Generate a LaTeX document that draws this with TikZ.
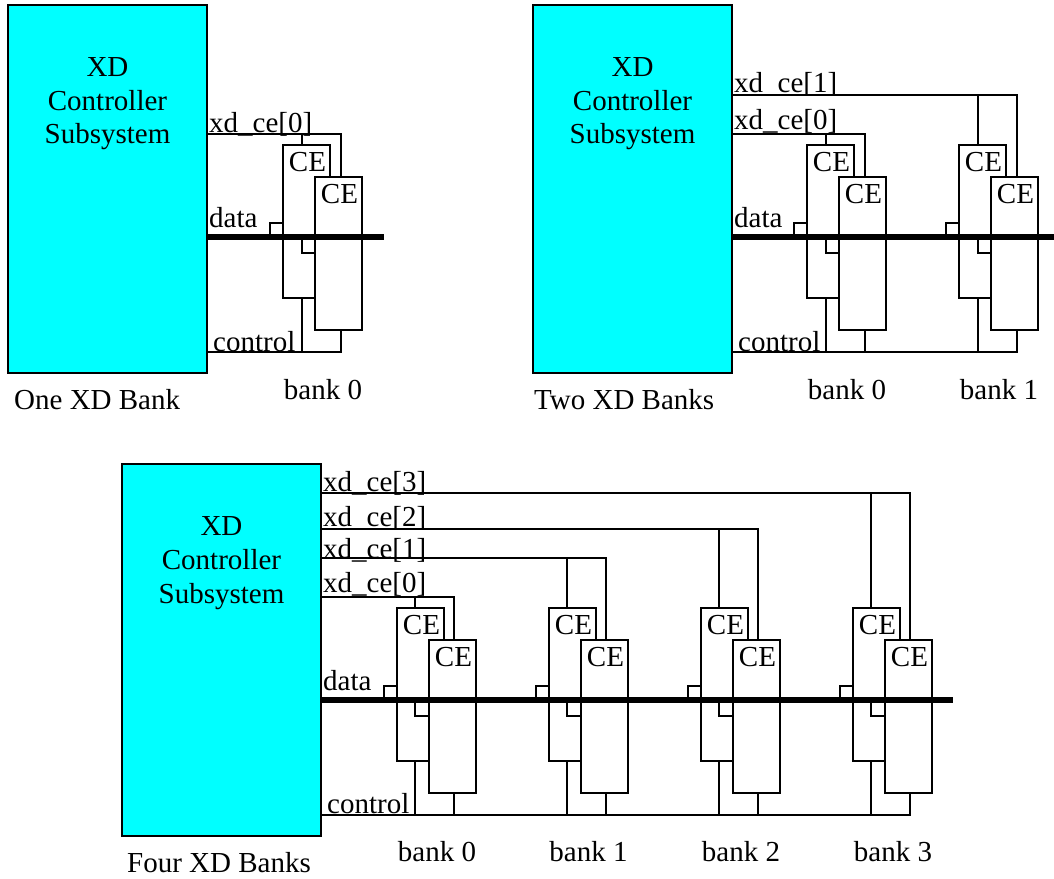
\documentclass[tikz,border=0pt]{standalone}
\usepackage{fontspec}
\setmainfont{Liberation Serif}
\definecolor{ctlcyan}{RGB}{0,255,255}
\begin{document}
\begin{tikzpicture}[
    x=1pt, y=-1pt,
    ctl/.style={draw, line width=1.6pt, fill=ctlcyan, minimum width=199pt, minimum height=368pt, inner sep=0pt},
    chip/.style={draw, line width=1.4pt, fill=white, minimum width=47pt, minimum height=153pt, inner sep=0pt},
    wire/.style={line width=1.2pt},
    bus/.style={line width=6pt},
    txt/.style={font=\fontsize{29}{34}\selectfont, inner sep=0pt, anchor=base},
    txtl/.style={txt, anchor=base west}
]
\useasboundingbox (0,0) rectangle (1054,878);

% --- One XD Bank (top left) ---
\node[ctl] (ctla) at (107.5,189) {};
\node[txt] (ctlaa) at (107.5,76) {XD};
\node[txt] (ctlab) at (107.5,110) {Controller};
\node[txt] (ctlac) at (107.5,143) {Subsystem};
\node[txtl] (onebank) at (14,409) {One XD Bank};

\coordinate (busa) at (207,237);
\coordinate (enda) at (384,237);

\node[chip] (a0f) at (306.5,221.5) {};
\node[chip] (a0r) at (338.5,253.5) {};
\node[txt] (a0fc) at (307.5,171) {CE};
\node[txt] (a0rc) at (339.5,203) {CE};
\coordinate (a0s) at (302,134);
\coordinate (a0c) at (341,134);
\coordinate (a0k) at (341,352);
\coordinate (a0d) at (270,223);
\coordinate (a0e) at (302,253);
\draw[wire] (ctla.east |- a0c) -- (a0c) -- (a0c |- a0r.north);
\draw[wire] (a0s) -- (a0s |- a0f.north);
\draw[wire] (ctla.east |- a0k) -- (a0k) -- (a0k |- a0r.south);
\draw[wire] (a0s |- a0k) -- (a0s |- a0f.south);
\draw[wire] (a0d |- busa) -- (a0d) -- (a0f.west |- a0d);
\draw[wire] (a0e |- busa) -- (a0e) -- (a0r.west |- a0e);
\draw[bus] (busa) -- (enda);

\node[txtl] (cea0) at (209,132) {xd\_ce[0]};
\node[txtl] (dataa) at (209,227) {data};
\node[txtl] (ctrla) at (213,351) {control};
\node[txt] (banka0) at (323,399) {bank 0};

% --- Two XD Banks (top right) ---
\node[ctl] (ctlb) at (632.5,189) {};
\node[txt] (ctlba) at (632.5,76) {XD};
\node[txt] (ctlbb) at (632.5,110) {Controller};
\node[txt] (ctlbc) at (632.5,143) {Subsystem};
\node[txtl] (twobank) at (534,409) {Two XD Banks};

\coordinate (busb) at (732,237);
\coordinate (endb) at (1054,237);

\begin{scope}[xshift=524pt]
\node[chip] (b0f) at (306.5,221.5) {};
\node[chip] (b0r) at (338.5,253.5) {};
\node[txt] (b0fc) at (307.5,171) {CE};
\node[txt] (b0rc) at (339.5,203) {CE};
\coordinate (b0s) at (302,134);
\coordinate (b0c) at (341,134);
\coordinate (b0k) at (341,352);
\coordinate (b0d) at (270,223);
\coordinate (b0e) at (302,253);
\draw[wire] (ctlb.east |- b0c) -- (b0c) -- (b0c |- b0r.north);
\draw[wire] (b0s) -- (b0s |- b0f.north);
\draw[wire] (ctlb.east |- b0k) -- (b0k) -- (b0k |- b0r.south);
\draw[wire] (b0s |- b0k) -- (b0s |- b0f.south);
\draw[wire] (b0d |- busb) -- (b0d) -- (b0f.west |- b0d);
\draw[wire] (b0e |- busb) -- (b0e) -- (b0r.west |- b0e);
\end{scope}

\begin{scope}[xshift=676pt]
\node[chip] (b1f) at (306.5,221.5) {};
\node[chip] (b1r) at (338.5,253.5) {};
\node[txt] (b1fc) at (307.5,171) {CE};
\node[txt] (b1rc) at (339.5,203) {CE};
\coordinate (b1s) at (302,95);
\coordinate (b1c) at (341,95);
\coordinate (b1k) at (341,352);
\coordinate (b1d) at (270,223);
\coordinate (b1e) at (302,253);
\draw[wire] (ctlb.east |- b1c) -- (b1c) -- (b1c |- b1r.north);
\draw[wire] (b1s) -- (b1s |- b1f.north);
\draw[wire] (ctlb.east |- b1k) -- (b1k) -- (b1k |- b1r.south);
\draw[wire] (b1s |- b1k) -- (b1s |- b1f.south);
\draw[wire] (b1d |- busb) -- (b1d) -- (b1f.west |- b1d);
\draw[wire] (b1e |- busb) -- (b1e) -- (b1r.west |- b1e);
\end{scope}

\draw[bus] (busb) -- (endb);

\node[txtl] (ceb1) at (734,92) {xd\_ce[1]};
\node[txtl] (ceb0) at (734,129) {xd\_ce[0]};
\node[txtl] (datab) at (734,227) {data};
\node[txtl] (ctrlb) at (738,351) {control};
\node[txt] (bankb0) at (847,399) {bank 0};
\node[txt] (bankb1) at (999,399) {bank 1};

% --- Four XD Banks (bottom) ---
\node[ctl, minimum height=372pt] (ctlc) at (221.5,650) {};
\node[txt] (ctlca) at (221.5,535) {XD};
\node[txt] (ctlcb) at (221.5,569) {Controller};
\node[txt] (ctlcc) at (221.5,603) {Subsystem};
\node[txtl] (fourbank) at (127,872) {Four XD Banks};

\coordinate (busc) at (321,700);
\coordinate (endc) at (953,700);

\begin{scope}[xshift=114pt, yshift=-463pt]
\node[chip] (c0f) at (306.5,221.5) {};
\node[chip] (c0r) at (338.5,253.5) {};
\node[txt] (c0fc) at (307.5,171) {CE};
\node[txt] (c0rc) at (339.5,203) {CE};
\coordinate (c0s) at (301,134);
\coordinate (c0c) at (340,134);
\coordinate (c0k) at (340,352);
\coordinate (c0d) at (270,223);
\coordinate (c0e) at (301,253);
\draw[wire] (ctlc.east |- c0c) -- (c0c) -- (c0c |- c0r.north);
\draw[wire] (c0s) -- (c0s |- c0f.north);
\draw[wire] (ctlc.east |- c0k) -- (c0k) -- (c0k |- c0r.south);
\draw[wire] (c0s |- c0k) -- (c0s |- c0f.south);
\draw[wire] (c0d |- busc) -- (c0d) -- (c0f.west |- c0d);
\draw[wire] (c0e |- busc) -- (c0e) -- (c0r.west |- c0e);
\end{scope}

\begin{scope}[xshift=266pt, yshift=-463pt]
\node[chip] (c1f) at (306.5,221.5) {};
\node[chip] (c1r) at (338.5,253.5) {};
\node[txt] (c1fc) at (307.5,171) {CE};
\node[txt] (c1rc) at (339.5,203) {CE};
\coordinate (c1s) at (301,95);
\coordinate (c1c) at (340,95);
\coordinate (c1k) at (340,352);
\coordinate (c1d) at (270,223);
\coordinate (c1e) at (301,253);
\draw[wire] (ctlc.east |- c1c) -- (c1c) -- (c1c |- c1r.north);
\draw[wire] (c1s) -- (c1s |- c1f.north);
\draw[wire] (ctlc.east |- c1k) -- (c1k) -- (c1k |- c1r.south);
\draw[wire] (c1s |- c1k) -- (c1s |- c1f.south);
\draw[wire] (c1d |- busc) -- (c1d) -- (c1f.west |- c1d);
\draw[wire] (c1e |- busc) -- (c1e) -- (c1r.west |- c1e);
\end{scope}

\begin{scope}[xshift=418pt, yshift=-463pt]
\node[chip] (c2f) at (306.5,221.5) {};
\node[chip] (c2r) at (338.5,253.5) {};
\node[txt] (c2fc) at (307.5,171) {CE};
\node[txt] (c2rc) at (339.5,203) {CE};
\coordinate (c2s) at (301,66);
\coordinate (c2c) at (340,66);
\coordinate (c2k) at (340,352);
\coordinate (c2d) at (270,223);
\coordinate (c2e) at (301,253);
\draw[wire] (ctlc.east |- c2c) -- (c2c) -- (c2c |- c2r.north);
\draw[wire] (c2s) -- (c2s |- c2f.north);
\draw[wire] (ctlc.east |- c2k) -- (c2k) -- (c2k |- c2r.south);
\draw[wire] (c2s |- c2k) -- (c2s |- c2f.south);
\draw[wire] (c2d |- busc) -- (c2d) -- (c2f.west |- c2d);
\draw[wire] (c2e |- busc) -- (c2e) -- (c2r.west |- c2e);
\end{scope}

\begin{scope}[xshift=570pt, yshift=-463pt]
\node[chip] (c3f) at (306.5,221.5) {};
\node[chip] (c3r) at (338.5,253.5) {};
\node[txt] (c3fc) at (307.5,171) {CE};
\node[txt] (c3rc) at (339.5,203) {CE};
\coordinate (c3s) at (301,30);
\coordinate (c3c) at (340,30);
\coordinate (c3k) at (340,352);
\coordinate (c3d) at (270,223);
\coordinate (c3e) at (301,253);
\draw[wire] (ctlc.east |- c3c) -- (c3c) -- (c3c |- c3r.north);
\draw[wire] (c3s) -- (c3s |- c3f.north);
\draw[wire] (ctlc.east |- c3k) -- (c3k) -- (c3k |- c3r.south);
\draw[wire] (c3s |- c3k) -- (c3s |- c3f.south);
\draw[wire] (c3d |- busc) -- (c3d) -- (c3f.west |- c3d);
\draw[wire] (c3e |- busc) -- (c3e) -- (c3r.west |- c3e);
\end{scope}

\draw[bus] (busc) -- (endc);

\node[txtl] (cec3) at (323,491) {xd\_ce[3]};
\node[txtl] (cec2) at (323,526) {xd\_ce[2]};
\node[txtl] (cec1) at (323,558) {xd\_ce[1]};
\node[txtl] (cec0) at (323,592) {xd\_ce[0]};
\node[txtl] (datac) at (323,690) {data};
\node[txtl] (ctrlc) at (327,813.5) {control};
\node[txt] (bankc0) at (437,861) {bank 0};
\node[txt] (bankc1) at (588.5,861) {bank 1};
\node[txt] (bankc2) at (741,861) {bank 2};
\node[txt] (bankc3) at (893,861) {bank 3};

\end{tikzpicture}
\end{document}
